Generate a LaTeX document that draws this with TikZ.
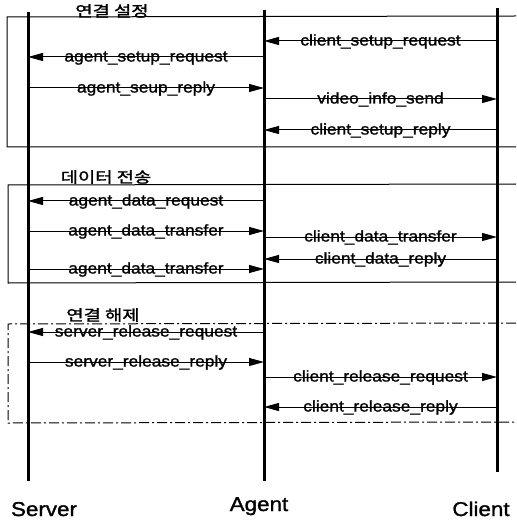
\documentclass[tikz,border=0pt]{standalone}
\usepackage{fontspec}
\setmainfont{Liberation Sans}[FakeStretch=1.12, FakeBold=1.3]
\newfontfamily\krfont{Noto Sans CJK KR}[FakeStretch=1.25, FakeBold=1.5]
\usetikzlibrary{arrows.meta}
\begin{document}
\begin{tikzpicture}[x=1pt,y=-1pt,
  life/.style={line width=3pt},
  msg/.style={line width=1pt,-{Triangle[length=15pt,width=8pt]}},
  lbl/.style={font=\fontsize{15.5}{16}\selectfont, anchor=base, yshift=-4.5pt, inner sep=0pt},
  frame/.style={line width=1pt},
  dashdot/.style={line width=1pt, dash pattern=on 10pt off 3pt on 2pt off 3pt},
  title/.style={font=\krfont\fontsize{15}{16}\selectfont, inner sep=0pt},
  actor/.style={font=\fontsize{20}{22}\selectfont, inner sep=0pt, anchor=base}]
\useasboundingbox (0,0) rectangle (516,521);

% lifelines
\coordinate (St) at (28,12);  \coordinate (Sb) at (28,481);
\coordinate (At) at (264,10); \coordinate (Ab) at (264,481);
\coordinate (Ct) at (497,8);  \coordinate (Cb) at (497,472);
\draw[life] (St) -- (Sb);
\draw[life] (At) -- (Ab);
\draw[life] (Ct) -- (Cb);

% frames
\draw[frame] (516,16) -- (7,17) -- (7,147) -- (516,147);
\draw[frame] (516,184) -- (8,185) -- (8,283) -- (516,282);
\draw[dashdot] (516,323) -- (8,324) -- (8,423) -- (516,422);

% titles
\node[title] (t1) at (112,11) {연결 설정};
\node[title] (t2) at (106,177) {데이터 전송};
\node[title] (t3) at (103,315) {연결 해제};

% phase 1
\draw[msg] (Ct |- 0,41) -- node[lbl]{client\_setup\_request} (At |- 0,41);
\draw[msg] (At |- 0,57) -- node[lbl]{agent\_setup\_request} (St |- 0,57);
\draw[msg] (St |- 0,88) -- node[lbl]{agent\_seup\_reply} (At |- 0,88);
\draw[msg] (At |- 0,99) -- node[lbl]{video\_info\_send} (Ct |- 0,99);
\draw[msg] (Ct |- 0,130) -- node[lbl]{client\_setup\_reply} (At |- 0,130);

% phase 2
\draw[msg] (At |- 0,201) -- node[lbl]{agent\_data\_request} (St |- 0,201);
\draw[msg] (St |- 0,231) -- node[lbl]{agent\_data\_transfer} (At |- 0,231);
\draw[msg] (At |- 0,237) -- node[lbl]{client\_data\_transfer} (Ct |- 0,237);
\draw[msg] (Ct |- 0,259) -- node[lbl]{client\_data\_reply} (At |- 0,259);
\draw[msg] (St |- 0,269) -- node[lbl]{agent\_data\_transfer} (At |- 0,269);

% phase 3
\draw[msg] (At |- 0,332) -- node[lbl]{server\_release\_request} (St |- 0,332);
\draw[msg] (St |- 0,362) -- node[lbl]{server\_release\_reply} (At |- 0,362);
\draw[msg] (At |- 0,377) -- node[lbl]{client\_release\_request} (Ct |- 0,377);
\draw[msg] (Ct |- 0,407) -- node[lbl]{client\_release\_reply} (At |- 0,407);

% actors
\node[actor] (server) at (44,516) {Server};
\node[actor] (agent) at (259,511) {Agent};
\node[actor] (client) at (481,516) {Client};
\end{tikzpicture}
\end{document}
